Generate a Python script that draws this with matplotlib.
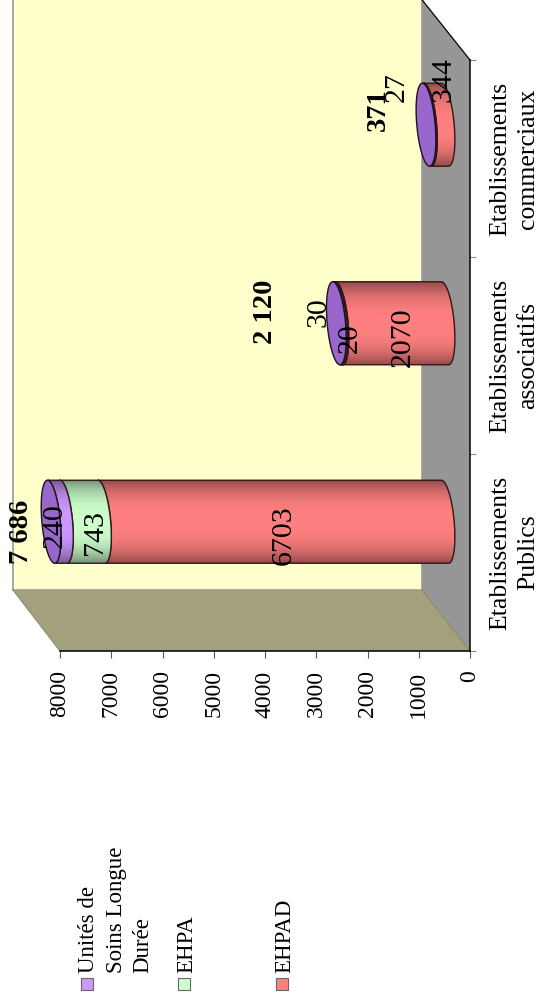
import numpy as np
import matplotlib
matplotlib.use("Agg")
import matplotlib.pyplot as plt
from matplotlib.patches import Polygon, PathPatch, Rectangle
from matplotlib.path import Path
from matplotlib.transforms import Affine2D
from matplotlib.colors import to_rgb

# ---- data ----
categories = ["Etablissements\nPublics", "Etablissements\nassociatifs", "Etablissements\ncommerciaux"]
ehpad = [6703, 2070, 344]
ehpa = [743, 20, 0]
usld = [240, 30, 27]
totals = ["7 686", "2 120", "371"]
value_ticks = [0, 1000, 2000, 3000, 4000, 5000, 6000, 7000, 8000]
series_names = ["EHPAD", "EHPA", "Unités de\nSoins Longue\nDurée"]

# ---- style ----
W, H = 540, 1005
RED, GREEN, PURPLE, TOP = "#FF8080", "#CCFFCC", "#CC99FF", "#9966CC"
SERIF = "Liberation Serif"
plt.rcParams["font.family"] = SERIF

fig = plt.figure(figsize=(W / 100, H / 100), dpi=100, facecolor="white")
px = Affine2D().scale(1, -1).translate(0, H)  # pixel coordinates, y down

ax = fig.add_axes([60 / W, (H - 651) / H, 410 / W, 591 / H])
ax.patch.set_visible(False)
ax.set_xlim(8000, 0)
ax.set_ylim(0, 3)
PXV, PXC = 410 / 8000, 591 / 3

# walls and floor of the 3D box
fig.add_artist(Polygon([(13, -5), (422, -5), (422, 590), (13, 590)], closed=True, transform=px,
                       fc="#FFFFCC", ec="#999999", lw=1.2, zorder=-3))
fig.add_artist(Polygon([(422, 0), (470, 60), (470, 651), (422, 590)], closed=True, transform=px,
                       fc="#969696", ec="none", zorder=-2))
fig.add_artist(Polygon([(13, 590), (60, 651), (470, 651), (422, 590)], closed=True, transform=px,
                       fc="#A3A07D", ec="none", zorder=-1))
fig.add_artist(plt.Line2D([419, 470], [-4, 60], transform=px, color="black", lw=0.9, zorder=-1))
fig.add_artist(plt.Line2D([13, 60], [590, 651], transform=px, color="#8f8f80", lw=0.9, zorder=-1))
fig.add_artist(plt.Line2D([422, 470], [590, 651], transform=px, color="#8a8a70", lw=0.8, zorder=-1))

# axes
for s in ("top", "left"):
    ax.spines[s].set_visible(False)
for s in ("bottom", "right"):
    ax.spines[s].set_linewidth(1.1)
ax.set_xticks(value_ticks)
ax.set_xticklabels([str(v) for v in value_ticks], rotation=90, fontsize=17, family=SERIF)
ax.tick_params(axis="x", length=5, width=0.8, color="#555555", pad=9)
ax.yaxis.tick_right()
ax.set_yticks([0, 1, 2, 3])
ax.set_yticklabels([])
ax.tick_params(axis="y", which="major", length=4.5, width=0.8, color="#888888")
ax.set_yticks([0.5, 1.5, 2.5], minor=True)
ax.set_yticklabels(categories, minor=True, rotation=90, va="center", ha="left",
                   fontsize=18.5, family=SERIF, linespacing=1.32)
for lbl in ax.get_yticklabels(minor=True):
    lbl.set_multialignment("center")
ax.tick_params(axis="y", which="minor", length=0, pad=14)

# cylinders
A, S, B = 9.2, 3.6, 41.5     # half-axes of the ellipse and its shear, pixels
BASE_PX = 25.0               # depth shift of the bars along the value axis
PITCH = 198.5 / 197


def centre(i):
    return (i + 0.5) * PITCH + 30 / PXC


def curve(value, cy, t):
    x = value + BASE_PX / PXV - (A * np.cos(t) + S * np.sin(t)) / PXV
    y = cy - B * np.sin(t) / PXC
    return x, y


def gradient(colour):
    c = np.array(to_rgb(colour))
    t = np.linspace(-1, 1, 128)
    shade = 1 - 0.42 * np.abs(t) ** 2.6
    return (c[None, :] * shade[:, None])[:, None, :]


def segment(start, stop, cy, colour, z):
    t = np.linspace(-np.pi / 2, np.pi / 2, 60)
    x0, y0 = curve(start, cy, t)
    x1, y1 = curve(stop, cy, t[::-1])
    verts = np.vstack([np.column_stack([x0, y0]), np.column_stack([x1, y1]), [[x0[0], y0[0]]]])
    path = Path(verts)
    im = ax.imshow(gradient(colour), aspect="auto", origin="lower", zorder=z, interpolation="bilinear",
                   extent=(verts[:, 0].max(), verts[:, 0].min(), cy - B / PXC, cy + B / PXC))
    patch = PathPatch(path, transform=ax.transData, fc="none", ec="#301818", lw=1.0,
                      zorder=z + 0.1, clip_on=False)
    ax.add_patch(patch)
    im.set_clip_path(patch)
    im.set_clip_box(fig.bbox)


for i in range(len(categories)):
    cy = centre(i)
    z = 3 + i
    low = 0
    for vals, col in ((ehpad, RED), (ehpa, GREEN), (usld, PURPLE)):
        v = vals[i]
        if v:
            segment(low, low + v, cy, col, z)
            z += 0.2
        low += v
    t = np.linspace(0, 2 * np.pi, 120)
    ex, ey = curve(low, cy, t)
    ax.add_patch(Polygon(np.column_stack([ex, ey]), closed=True, fc=TOP, ec="#201020", lw=1.0,
                         zorder=z + 0.2, clip_on=False))
ax.set_xlim(8000, 0)
ax.set_ylim(0, 3)

# data labels (pixel placement, text from the data)
labels = [
    (str(ehpad[0]), 284, 535, False), (str(ehpa[0]), 95, 533, False), (str(usld[0]), 55, 526, False),
    (totals[0], 21, 532, True),
    (str(ehpad[1]), 403, 337, False), (str(ehpa[1]), 350, 338, False), (str(usld[1]), 318, 312, False),
    (totals[1], 265, 312, True),
    (str(ehpad[2]), 443, 80, False), (str(usld[2]), 397, 87, False), (totals[2], 378, 110, True),
]
for txt, x, y, bold in labels:
    ax.text(x, y, txt, transform=px, rotation=90, ha="center", va="center",
            fontsize=20.5 if bold else 21.5,
            fontweight="bold" if bold else "normal", family=SERIF, clip_on=False, zorder=20)

# legend
legend = [(series_names[2], 87, (94, 122, 148), PURPLE), (series_names[1], 184, (192,), GREEN),
          (series_names[0], 282, (290,), RED)]
for name, sx, baselines, col in legend:
    fig.add_artist(Rectangle((sx - 6, 978), 12, 12, transform=px, fc=col, ec="#666666", lw=0.8))
    for line, x in zip(name.split("\n"), baselines):
        fig.text(x, 973, line, transform=px, rotation=90, ha="left", va="baseline",
                 rotation_mode="anchor", fontsize=16.5, family=SERIF)

fig.savefig("out.png", dpi=100, facecolor="white")
